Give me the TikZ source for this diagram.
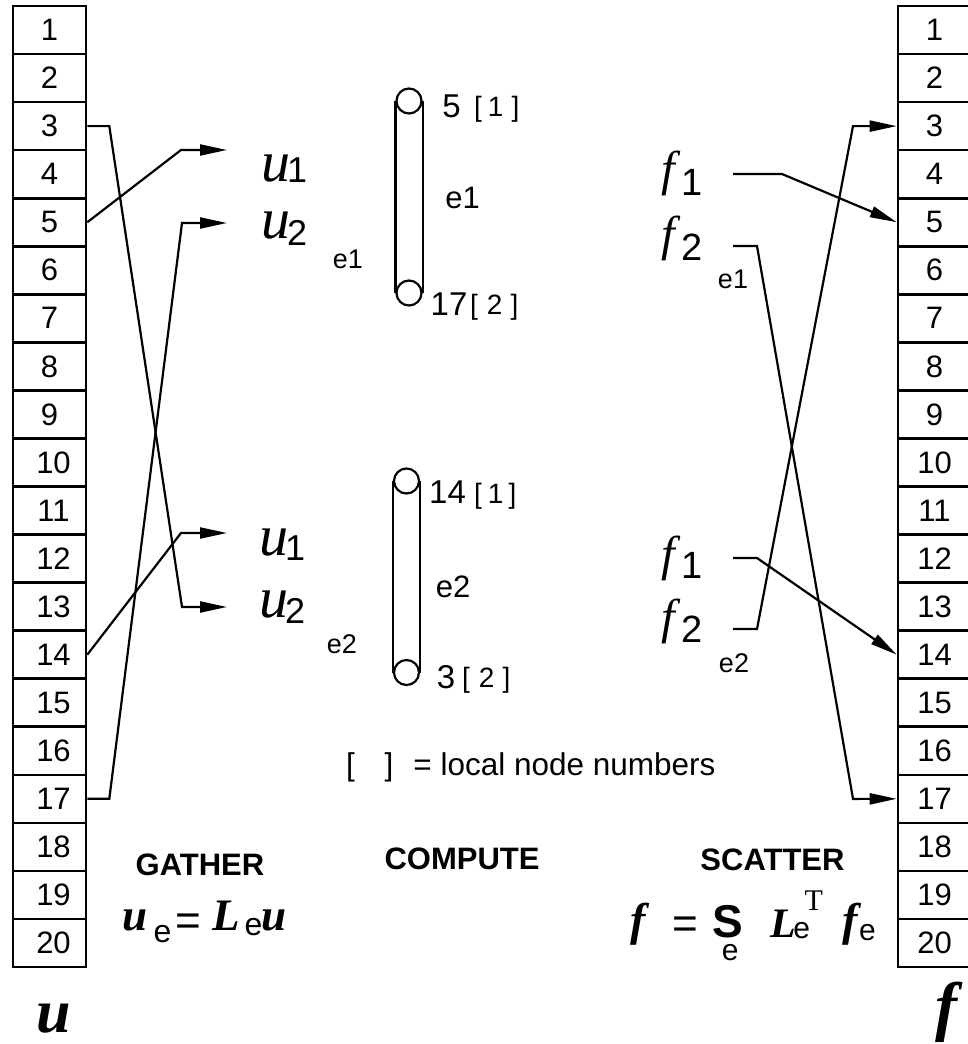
\documentclass[tikz,border=0pt]{standalone}
\usepackage{fontspec}
\setmainfont{Liberation Sans}
\newfontfamily\lserif{Liberation Serif}
\usetikzlibrary{arrows.meta}
\newcommand\fsz[1]{\fontsize{#1pt}{#1pt}\selectfont}
\newcommand\subtx[3]{\raisebox{#1}{\normalfont\fsz{#2}#3}}
\begin{document}
\begin{tikzpicture}[x=1pt,y=-1pt,
  cell/.style={draw,line width=2.6pt,minimum width=73pt,minimum height=48.05pt,inner sep=0pt,font=\fsz{31}},
  conn/.style={line width=2.2pt,line join=miter},
  arr/.style={conn,-{Triangle[length=27pt,width=11pt]}},
  elnode/.style={circle,draw,line width=2.2pt,minimum size=25pt,inner sep=0pt},
  tube/.style={line width=2.2pt},
  txt/.style={inner sep=0pt,anchor=base},
  txtw/.style={inner sep=0pt,anchor=base west},
  sfont/.style={font=\fsz{#1}},
  itf/.style={font=\lserif\itshape\fsz{#1}},
  bif/.style={font=\lserif\bfseries\itshape\fsz{#1}},
  bsf/.style={font=\bfseries\fsz{#1}},
  rmf/.style={font=\lserif\fsz{#1}}]
\useasboundingbox (0,0) rectangle (968,1044);
\fill[white] (0,0) rectangle (968,1044);
% global vectors
\foreach \i in {1,...,20}{
  \node[cell] (L\i) at (49.5,{6+48.05*(\i-0.5)}) {\ifnum\i>9\hspace*{8pt}\fi\i};
  \node[cell] (R\i) at (934.5,{6+48.05*(\i-0.5)}) {\i};
}
% elements
\node[elnode] (e1a) at (409,101) {};
\node[elnode] (e1b) at (409,293) {};
\draw[tube] (e1a.west) -- (e1b.west);
\draw[tube] (e1a.east) -- (e1b.east);
\node[elnode] (e2a) at (406.5,481) {};
\node[elnode] (e2b) at (406.5,672.5) {};
\draw[tube] (e2a.west) -- (e2b.west);
\draw[tube] (e2a.east) -- (e2b.east);
% element labels
\node[txt,sfont=33] (n5) at (451.5,117) {5};
\node[txtw,sfont=28] (n5l) at (474,116) {[\hspace{6pt}1\hspace{8pt}]};
\node[txt,sfont=31] (m1) at (462.5,208) {e1};
\node[txt,sfont=33] (n17) at (449,315) {17};
\node[txtw,sfont=28] (n17l) at (470,314) {[\hspace{9pt}2\hspace{8pt}]};
\node[txt,sfont=33] (n14) at (447.5,503) {14};
\node[txtw,sfont=28] (n14l) at (474,503) {[\hspace{6pt}1\hspace{5pt}]};
\node[txt,sfont=31] (m2) at (453,597) {e2};
\node[txt,sfont=33] (n3) at (446,688) {3};
\node[txtw,sfont=28] (n3l) at (462,687) {[\hspace{9pt}2\hspace{8pt}]};
\node[txtw,sfont=31.5] (leg) at (346,775) {[\hspace{29.75pt}]\hspace{20pt}= local node numbers};
% gather labels
\node[txtw,itf=58] (uA1l) at (261.5,181) {u\hspace{-3.5pt}\subtx{-1pt}{36}{1}};
\node[txtw,itf=58] (uA2l) at (261.5,238) {u\hspace{-3.5pt}\subtx{-7pt}{36}{2}};
\node[txtw,itf=58] (uB1l) at (259.5,555) {u\hspace{-3.5pt}\subtx{-5pt}{36}{1}};
\node[txtw,itf=58] (uB2l) at (259.5,617) {u\hspace{-3.5pt}\subtx{-6pt}{36}{2}};
\node[txt,sfont=27] (eA) at (348,268) {e1};
\node[txt,sfont=27] (eB) at (342,653) {e2};
% scatter labels
\node[txt,itf=49] (fA1l) at (668,185) {f};
\node[txt,sfont=38] (fA1s) at (692,195) {1};
\node[txt,itf=49] (fA2l) at (668,250) {f};
\node[txt,sfont=38] (fA2s) at (692,260) {2};
\node[txt,itf=49] (fB1l) at (668,570) {f};
\node[txt,sfont=38] (fB1s) at (692,578) {1};
\node[txt,itf=49] (fB2l) at (668,633) {f};
\node[txt,sfont=38] (fB2s) at (692,642) {2};
\node[txt,sfont=27] (eC) at (733,288) {e1};
\node[txt,sfont=27] (eD) at (734,672) {e2};
% gather connectors
\coordinate (uA1) at (181,150); \coordinate (uA1t) at (227,150);
\coordinate (uA2) at (182,223); \coordinate (uA2t) at (227,223);
\coordinate (uB1) at (181,533); \coordinate (uB1t) at (227,533);
\coordinate (uB2) at (182,607); \coordinate (uB2t) at (227,607);
\draw[arr] (L5.east) -- (uA1) -- (uA1t);
\draw[arr] (L17.east) -- ++(22,0) -- (uA2) -- (uA2t);
\draw[arr] (L3.east) -- ++(22,0) -- (uB2) -- (uB2t);
\draw[arr] (L14.east) -- (uB1) -- (uB1t);
% scatter connectors
\coordinate (fA1) at (733,174); \coordinate (fA1b) at (782,174);
\coordinate (fA2) at (733,246); \coordinate (fA2b) at (757,246); \coordinate (fA2c) at (853,798.9);
\coordinate (fB1) at (733,558); \coordinate (fB1b) at (757,558);
\coordinate (fB2) at (733,629); \coordinate (fB2b) at (757,629); \coordinate (fB2c) at (853,126.1);
\draw[arr] (fA1) -- (fA1b) -- (R5.west);
\draw[arr] (fA2) -- (fA2b) -- (fA2c) -- (R17.west);
\draw[arr] (fB1) -- (fB1b) -- (R14.west);
\draw[arr] (fB2) -- (fB2b) -- (fB2c) -- (R3.west);
% titles
\node[txt,bsf=31] (gat) at (200,875) {GATHER};
\node[txt,bsf=31] (com) at (462,869) {COMPUTE};
\node[txt,bsf=31] (sca) at (772.5,870) {SCATTER};
% gather formula
\node[txt,bif=45] (gu1) at (135,930) {u};
\node[txt,sfont=32] (ge1) at (162.5,942) {e};
\node[txt,sfont=44] (geq) at (188.5,935) {=};
\node[txt,bif=45] (gL) at (226.5,930) {L};
\node[txt,sfont=32] (ge2) at (253.5,935) {e};
\node[txt,bif=45] (gu2) at (274,930) {u};
% scatter formula
\node[txt,bif=46] (sf1) at (638,935) {f};
\node[txt,sfont=44] (seq) at (685.5,938) {=};
\node[txtw,bsf=46] (sS) at (712.2,937) {S\llap{\subtx{-23pt}{30}{e}\hspace{4.6pt}}};
\node[txtw,bif=42] (sL) at (770.7,937) {L\hspace{-3.1pt}\subtx{-1pt}{30}{e}\hspace{-5.6pt}\raisebox{27pt}{\lserif\mdseries\upshape\fsz{30}T}};
\node[txt,bif=46] (sf2) at (850,935) {f};
\node[txt,sfont=30] (sfe) at (867.5,940) {e};
% vector names
\node[txt,bif=62] (uvec) at (54,1032) {u};
\node[txt,bif=66] (fvec) at (946,1028) {f};
\end{tikzpicture}
\end{document}
